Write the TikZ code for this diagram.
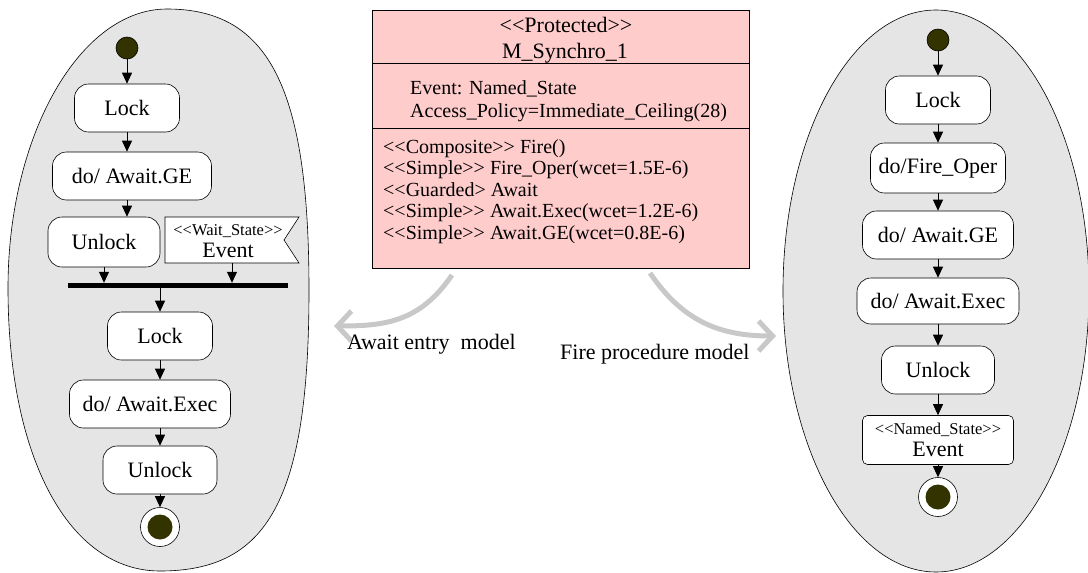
\documentclass[tikz,border=0pt]{standalone}
\usepackage{fontspec}
\setmainfont{Liberation Serif}
\usetikzlibrary{arrows.meta}
\definecolor{initc}{RGB}{51,51,0}
\definecolor{pinkc}{RGB}{255,204,204}
\definecolor{ellc}{RGB}{229,229,229}
\definecolor{arrc}{RGB}{200,200,200}
\newcommand{\lsg}{<\kern0pt<}
\newcommand{\rsg}{>\kern0pt>}
\begin{document}
\begin{tikzpicture}[x=1pt,y=-1pt,
  act/.style={draw, fill=white, rounded corners=14pt, minimum height=48pt, inner sep=2pt, line width=0.6pt, font=\fontsize{22}{22}\selectfont},
  initn/.style={circle, draw, fill=initc, minimum size=22pt, inner sep=0pt, line width=0.6pt},
  finaln/.style={circle, draw, fill=white, minimum size=39pt, inner sep=0pt, line width=0.6pt},
  flow/.style={-{Triangle[length=11pt,width=10pt]}, line width=0.8pt},
  bigarr/.style={line width=5pt, arrc, -{Straight Barb[length=14pt,width=30pt]}},
  lbl/.style={font=\fontsize{22}{22}\selectfont, inner sep=0pt, anchor=base west},
  clst/.style={font=\fontsize{20}{22}\selectfont, inner sep=0pt, anchor=base west},
  clsh/.style={font=\fontsize{22}{24}\selectfont, inner sep=0pt, anchor=base},
  modelbg/.style={draw, fill=ellc, line width=0.6pt},
  twoline/.style={align=center, inner sep=0pt, font=\fontsize{22}{22}\selectfont}
]
\useasboundingbox (0,0) rectangle (1088,573);

% background shapes
\draw[modelbg] (167,9) .. controls (269,9) and (309,88) .. (309,290)
  .. controls (309,501) and (267,571) .. (160,571)
  .. controls (69,571) and (8,458) .. (8,288)
  .. controls (8,135) and (80,9) .. (167,9) -- cycle;
\draw[modelbg] (936,291) ellipse [x radius=153pt, y radius=281pt];

% class box
\node[draw, fill=pinkc, minimum width=377pt, minimum height=258pt, inner sep=0pt, anchor=north west, line width=0.8pt] (cls) at (372,10) {};
\draw[line width=0.8pt] ([yshift=-53pt]cls.north west) -- ([yshift=-53pt]cls.north east);
\draw[line width=0.8pt] ([yshift=-118pt]cls.north west) -- ([yshift=-118pt]cls.north east);
\node[clsh] (cst) at (566,32) {\lsg Protected\rsg};
\node[clsh] (cnm) at (565,58) {M\_Synchro\_1};
\node[clst] (ca1) at (410,94) {Event: Named\_State};
\node[clst] (ca2) at (410,117) {Access\_Policy=Immediate\_Ceiling(28)};
\node[clst] (co1) at (383,153) {\lsg Composite\rsg{} Fire()};
\node[clst] (co2) at (383,174.5) {\lsg Simple\rsg{} Fire\_Oper(wcet=1.5E-6)};
\node[clst] (co3) at (383,196) {\lsg Guarded> Await};
\node[clst] (co4) at (383,217.5) {\lsg Simple\rsg{} Await.Exec(wcet=1.2E-6)};
\node[clst] (co5) at (383,239) {\lsg Simple\rsg{} Await.GE(wcet=0.8E-6)};

% grey arrows and labels
\coordinate (ga1) at (452,275);
\coordinate (gb1) at (334,326);
\draw[bigarr] (ga1) .. controls (420,322) and (385,326) .. (gb1);
\coordinate (ga2) at (650,273);
\coordinate (gb2) at (776,336);
\draw[bigarr] (ga2) .. controls (682,320) and (718,336) .. (gb2);
\node[lbl] (lab1) at (347,349) {Await entry\ \ model};
\node[lbl] (lab2) at (560,359) {Fire procedure model};

% left model
\node[initn] (li) at (127,48) {};
\node[act, minimum width=105pt] (ll1) at (127,108) {Lock};
\node[act, minimum width=159pt] (lge) at (132,176) {do/ Await.GE};
\node[act, minimum width=112pt, minimum height=50pt] (lu1) at (104,242) {Unlock};
\draw[fill=white, line width=0.6pt] (165,217) -- (299,217) -- (284,240) -- (299,263) -- (165,263) -- cycle;
\node[twoline] (lev) at (228,241) {{\fontsize{16.5}{22}\selectfont\lsg Wait\_State\rsg}\\Event};
\coordinate (levb) at (232,263);
\node[fill=black, minimum width=220pt, minimum height=5pt, inner sep=0pt] (lbar) at (178,285.5) {};
\node[act, minimum width=105pt] (ll2) at (160,336) {Lock};
\node[act, minimum width=161pt] (lex) at (150,404) {do/ Await.Exec};
\node[act, minimum width=114pt] (lu2) at (160,470) {Unlock};
\node[finaln] (lf) at (160,527) {};
\fill[initc] (lf.center) circle (12.5pt);

\draw[flow] (li) -- (ll1);
\draw[flow] (ll1.south) -- (ll1.south |- lge.north);
\draw[flow] (lge.south -| ll1.south) -- (lu1.north -| ll1.south);
\draw[flow] (lu1.south) -- (lu1.south |- lbar.north);
\draw[flow] (levb) -- (levb |- lbar.north);
\draw[flow] (lbar.south -| ll2.north) -- (ll2.north);
\draw[flow] (ll2.south) -- (ll2.south |- lex.north);
\draw[flow] (lex.south -| lu2.north) -- (lu2.north);
\draw[flow] (lu2) -- (lf);

% right model
\node[initn] (ri) at (938,40) {};
\node[act, minimum width=105pt] (rl) at (938,100) {Lock};
\node[act, minimum width=135pt, minimum height=50pt] (rfo) at (938,168) {do/Fire\_Oper};
\node[act, minimum width=151pt] (rge) at (938,235) {do/ Await.GE};
\node[act, minimum width=162pt, minimum height=46pt] (rex) at (938,301) {do/ Await.Exec};
\node[act, minimum width=113pt] (ru) at (938,370) {Unlock};
\node[twoline, draw, fill=white, rounded corners=5pt, minimum width=151pt, minimum height=49pt, line width=0.6pt] (rev) at (938,440) {{\fontsize{16.5}{22}\selectfont\lsg Named\_State\rsg}\\Event};
\node[finaln] (rf) at (938,497) {};
\fill[initc] (rf.center) circle (12.5pt);

\draw[flow] (ri) -- (rl);
\draw[flow] (rl) -- (rfo);
\draw[flow] (rfo) -- (rge);
\draw[flow] (rge) -- (rex);
\draw[flow] (rex) -- (ru);
\draw[flow] (ru) -- (rev);
\draw[flow] (rev) -- (rf);
\end{tikzpicture}
\end{document}
